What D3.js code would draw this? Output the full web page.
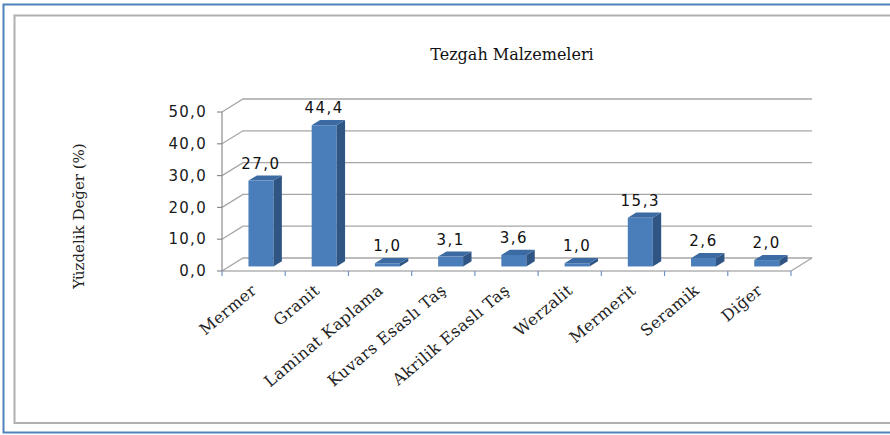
<!DOCTYPE html>
<html>
<head>
<meta charset="utf-8">
<script src="https://cdn.jsdelivr.net/npm/d3@7"></script>
<style>
	body { margin: 0; background: #fff; }
	#chart { width: 890px; height: 435px; }
</style>
</head>
<body>
<div id="chart"></div>
<script>
// veriler
var categories = ["Mermer", "Granit", "Laminat Kaplama", "Kuvars Esaslı Taş", "Akrilik  Esaslı Taş", "Werzalit", "Mermerit", "Seramik", "Diğer"];
var values = [27.0, 44.4, 1.0, 3.1, 3.6, 1.0, 15.3, 2.6, 2.0];
var yTicks = [0, 10, 20, 30, 40, 50];
var chartTitle = "Tezgah Malzemeleri";
var yTitle = "Yüzdelik Değer (%)";

var plot = {
	left: 222,
	right: 791,
	top: 112,
	bottom: 271
};
// 3B derinlik vektörü
var depth = { dx: 21, dy: -13 };
var barWidth = 25;
var barFront = 0.35, barBack = 0.75;

var fmt = d3.formatLocale({ decimal: ",", thousands: ".", grouping: [3], currency: ["", ""] }).format(".1f");

function drawChart() {
	let svg = d3.select('#chart')
		.append('svg')
		.attr('width', 890)
		.attr('height', 435);

	// çerçeveler
	svg.append('rect')
		.attr('x', 3.5).attr('y', 4.5)
		.attr('width', 900).attr('height', 428)
		.attr('fill', 'none')
		.attr('stroke', '#4f81bd')
		.attr('stroke-width', 2);
	svg.append('rect')
		.attr('x', 14.5).attr('y', 15.5)
		.attr('width', 900).attr('height', 407.5)
		.attr('fill', 'none')
		.attr('stroke', '#b0b0b0')
		.attr('stroke-width', 2);

	let x = d3.scaleBand()
		.domain(categories)
		.range([plot.left, plot.right]);

	let y = d3.scaleLinear()
		.domain([0, 50])
		.range([plot.bottom, plot.top]);

	let grid = svg.append('g')
		.attr('class', 'grid')
		.attr('fill', 'none')
		.attr('stroke', '#a6a6a6')
		.attr('stroke-width', 1.3);

	// arka duvar çizgileri ve sol duvar köşegenleri
	grid.selectAll('.back')
		.data(yTicks)
		.enter()
		.append('path')
		.attr('d', function (t) {
			let y0 = y(t);
			return 'M' + plot.left + ',' + y0 +
				'L' + (plot.left + depth.dx) + ',' + (y0 + depth.dy) +
				'L' + (plot.right + depth.dx) + ',' + (y0 + depth.dy);
		});

	// zemin sağ kenarı
	grid.append('path')
		.attr('d', 'M' + plot.right + ',' + plot.bottom +
			'L' + (plot.right + depth.dx) + ',' + (plot.bottom + depth.dy));

	// eksenler
	let axisG = svg.append('g')
		.attr('stroke', '#8c8c8c')
		.attr('stroke-width', 1.2);
	axisG.append('line')
		.attr('x1', plot.left).attr('x2', plot.left)
		.attr('y1', plot.top).attr('y2', plot.bottom);
	axisG.append('line')
		.attr('x1', plot.left).attr('x2', plot.right)
		.attr('y1', plot.bottom).attr('y2', plot.bottom);
	axisG.selectAll('.ytick')
		.data(yTicks)
		.enter()
		.append('line')
		.attr('x1', plot.left - 5).attr('x2', plot.left)
		.attr('y1', function (t) { return y(t); })
		.attr('y2', function (t) { return y(t); });

	let xTickPos = categories.map(function (c) { return x(c); }).concat([plot.right]);
	svg.append('g')
		.attr('stroke', '#6f95c8')
		.attr('stroke-width', 1.2)
		.selectAll('line')
		.data(xTickPos)
		.enter()
		.append('line')
		.attr('x1', function (d) { return d; })
		.attr('x2', function (d) { return d; })
		.attr('y1', plot.bottom)
		.attr('y2', plot.bottom + 5);

	// y etiketleri
	svg.append('g')
		.attr('font-family', 'DejaVu Sans, Verdana, sans-serif')
		.attr('font-size', 15)
		.attr('fill', '#1a1a1a')
		.selectAll('text')
		.data(yTicks)
		.enter()
		.append('text')
		.attr('x', 207)
		.attr('y', function (t) { return y(t); })
		.attr('dy', '0.35em')
		.attr('text-anchor', 'end')
		.style('letter-spacing', '1.3px')
		.text(function (t) { return fmt(t); });

	// 3B çubuklar
	let fx = barFront * depth.dx, fy = barFront * depth.dy;
	let ddx = (barBack - barFront) * depth.dx, ddy = (barBack - barFront) * depth.dy;

	let bar = svg.append('g')
		.attr('class', 'bars')
		.selectAll('g')
		.data(values)
		.enter()
		.append('g');

	function barLeft(d, i) {
		return x(categories[i]) + x.bandwidth() / 2 - barWidth / 2 + fx;
	}

	bar.append('rect')
		.attr('x', barLeft)
		.attr('y', function (d) { return y(d) + fy; })
		.attr('width', barWidth)
		.attr('height', function (d) { return y(0) - y(d); })
		.attr('fill', '#4a7ebb');

	bar.append('path')
		.attr('d', function (d, i) {
			let x1 = barLeft(d, i) + barWidth;
			let yt = y(d) + fy, yb = y(0) + fy;
			return 'M' + x1 + ',' + yt + 'L' + (x1 + ddx) + ',' + (yt + ddy) +
				'L' + (x1 + ddx) + ',' + (yb + ddy) + 'L' + x1 + ',' + yb + 'Z';
		})
		.attr('fill', '#2f5584');

	bar.append('path')
		.attr('d', function (d, i) {
			let x0 = barLeft(d, i);
			let yt = y(d) + fy;
			return 'M' + x0 + ',' + yt + 'L' + (x0 + barWidth) + ',' + yt +
				'L' + (x0 + barWidth + ddx) + ',' + (yt + ddy) +
				'L' + (x0 + ddx) + ',' + (yt + ddy) + 'Z';
		})
		.attr('fill', '#3c6aa3');

	bar.append('text')
		.attr('x', function (d, i) { return barLeft(d, i) + barWidth / 2; })
		.attr('y', function (d) { return y(d) + fy - 12; })
		.attr('text-anchor', 'middle')
		.attr('font-family', 'DejaVu Sans, Verdana, sans-serif')
		.attr('font-size', 15)
		.attr('fill', '#111')
		.style('letter-spacing', '1.5px')
		.text(function (d) { return fmt(d); });

	// kategori etiketleri
	svg.append('g')
		.attr('font-family', 'DejaVu Serif, Liberation Serif, serif')
		.attr('font-size', 16)
		.attr('fill', '#222')
		.selectAll('text')
		.data(categories)
		.enter()
		.append('text')
		.attr('transform', function (c) {
			return 'translate(' + (x(c) + x.bandwidth() / 2 + 4) + ',' + 292 + ') rotate(-40)';
		})
		.attr('text-anchor', 'end')
		.style('letter-spacing', '0.4px')
		.text(function (c) { return c; });

	// başlıklar
	svg.append('text')
		.attr('x', 512)
		.attr('y', 60)
		.attr('text-anchor', 'middle')
		.attr('font-family', 'DejaVu Serif, Liberation Serif, serif')
		.attr('font-size', 16)
		.attr('fill', '#111')
		.text(chartTitle);

	svg.append('text')
		.attr('transform', 'translate(84,216) rotate(-90)')
		.attr('text-anchor', 'middle')
		.attr('font-family', 'DejaVu Serif, Liberation Serif, serif')
		.attr('font-size', 15)
		.attr('fill', '#222')
		.text(yTitle);
}

drawChart();
</script>
</body>
</html>
